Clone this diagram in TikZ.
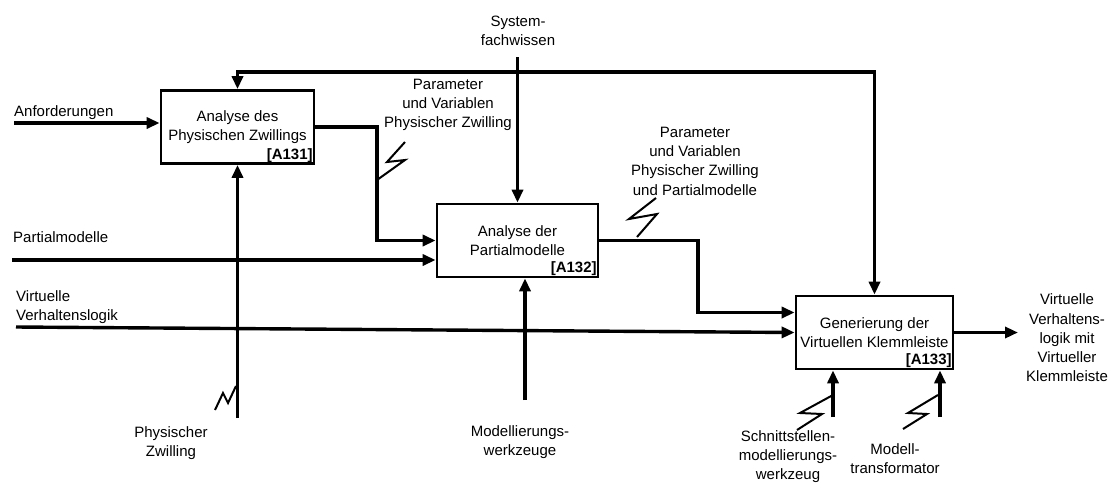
\documentclass[tikz,border=0pt]{standalone}
\usepackage{fontspec}
\setmainfont{Liberation Sans}
\usetikzlibrary{arrows.meta}
\begin{document}
\begin{tikzpicture}[x=1pt,y=-1pt,
  every node/.style={font=\fontsize{15}{19.3}\selectfont, inner sep=0pt, align=center},
  func/.style={draw, line width=2.7pt, minimum width=#1, minimum height=73pt},
  flow/.style={line width=3.4pt, -{Triangle[length=13pt,width=11pt]}},
  flowtwo/.style={line width=3.4pt, {Triangle[length=13pt,width=11pt]}-{Triangle[length=13pt,width=11pt]}},
  squig/.style={line width=2pt, line join=miter},
  tag/.style={anchor=south east, inner sep=2.5pt, font=\fontsize{15}{18}\selectfont\bfseries}]
\useasboundingbox (0,0) rectangle (1114,483);

% activity boxes
\node[func=153pt] (a1) at (237.5,127) {Analyse des\\Physischen Zwillings};
\node[tag] at (a1.south east) {[A131]};
\node[func=161pt] (a2) at (517.5,240.5) {Analyse der\\Partialmodelle};
\node[tag] at (a2.south east) {[A132]};
\node[func=157pt] (a3) at (874.5,332.5) {Generierung der\\Virtuellen Klemmleiste};
\node[tag] at (a3.south east) {[A133]};

% free ends of the connectors
\coordinate (inA) at (14,123);
\coordinate (inP) at (12,260);
\coordinate (inV) at (16,327);
\coordinate (sysS) at (517.5,57);
\coordinate (fb) at (0,72);
\coordinate (pz) at (237.5,418);
\coordinate (mw) at (525,400);
\coordinate (j1) at (377,0);
\coordinate (j2) at (698,0);
\coordinate (a3in) at ([yshift=20pt]a3.west);
\coordinate (out) at (1018,0);
\coordinate (sm) at (833,417);
\coordinate (mt) at (940,417);

% labels
\node[anchor=west] (lA) at (14,113) {Anforderungen};
\node[anchor=west] (lP) at (13,237) {Partialmodelle};
\node[anchor=west, align=left] (lV) at (16,307) {Virtuelle\\Verhaltenslogik};
\node (sys) at (518,31) {System-\\fachwissen};
\node (p1) at (448,105) {Parameter\\und Variablen\\Physischer Zwilling};
\node (p2) at (695,161) {Parameter\\und Variablen\\Physischer Zwilling\\und Partialmodelle};
\node (lpz) at (171,443) {Physischer\\Zwilling};
\node (lmw) at (520,442) {Modellierungs-\\werkzeuge};
\node (lsm) at (788,456.5) {Schnittstellen-\\modellierungs-\\werkzeug};
\node (lmt) at (895,458.5) {Modell-\\transformator};
\node (lout) at (1067,338) {Virtuelle\\Verhaltens-\\logik mit\\Virtueller\\Klemmleiste};

% connectors
\draw[flow] (inA) -- (inA -| a1.west);
\draw[flow] (inP) -- (inP -| a2.west);
\draw[flow] (inV) -- (a3.west);
\draw[flow] (sysS) -- (a2.north);
\draw[flowtwo] (a1.north) |- (a3.north |- fb) -- (a3.north);
\draw[flow] (pz) -- (a1.south);
\draw[flow] (mw) -- (mw |- a2.south);
\draw[flow] (a1.east) -| (j1 |- a2.west) -- (a2.west);
\draw[flow] (a2.east) -| (j2 |- a3in) -- (a3in);
\draw[flow] (a3.east) -- (a3.east -| out);
\draw[flow] (sm) -- (sm |- a3.south);
\draw[flow] (mt) -- (mt |- a3.south);

% squiggles tying labels to their arrows
\draw[squig] (377,180) -- (405,160) -- (387,162) -- (405,142);
\draw[squig] (637,237) -- (657,214) -- (629,219) -- (656,198);
\draw[squig] (215,410) -- (223,393) -- (228,403) -- (236,386);
\draw[squig] (833,395) -- (800,413) -- (822,414) -- (797,430);
\draw[squig] (938,395) -- (908,413) -- (927,414) -- (903,429);
\end{tikzpicture}
\end{document}
